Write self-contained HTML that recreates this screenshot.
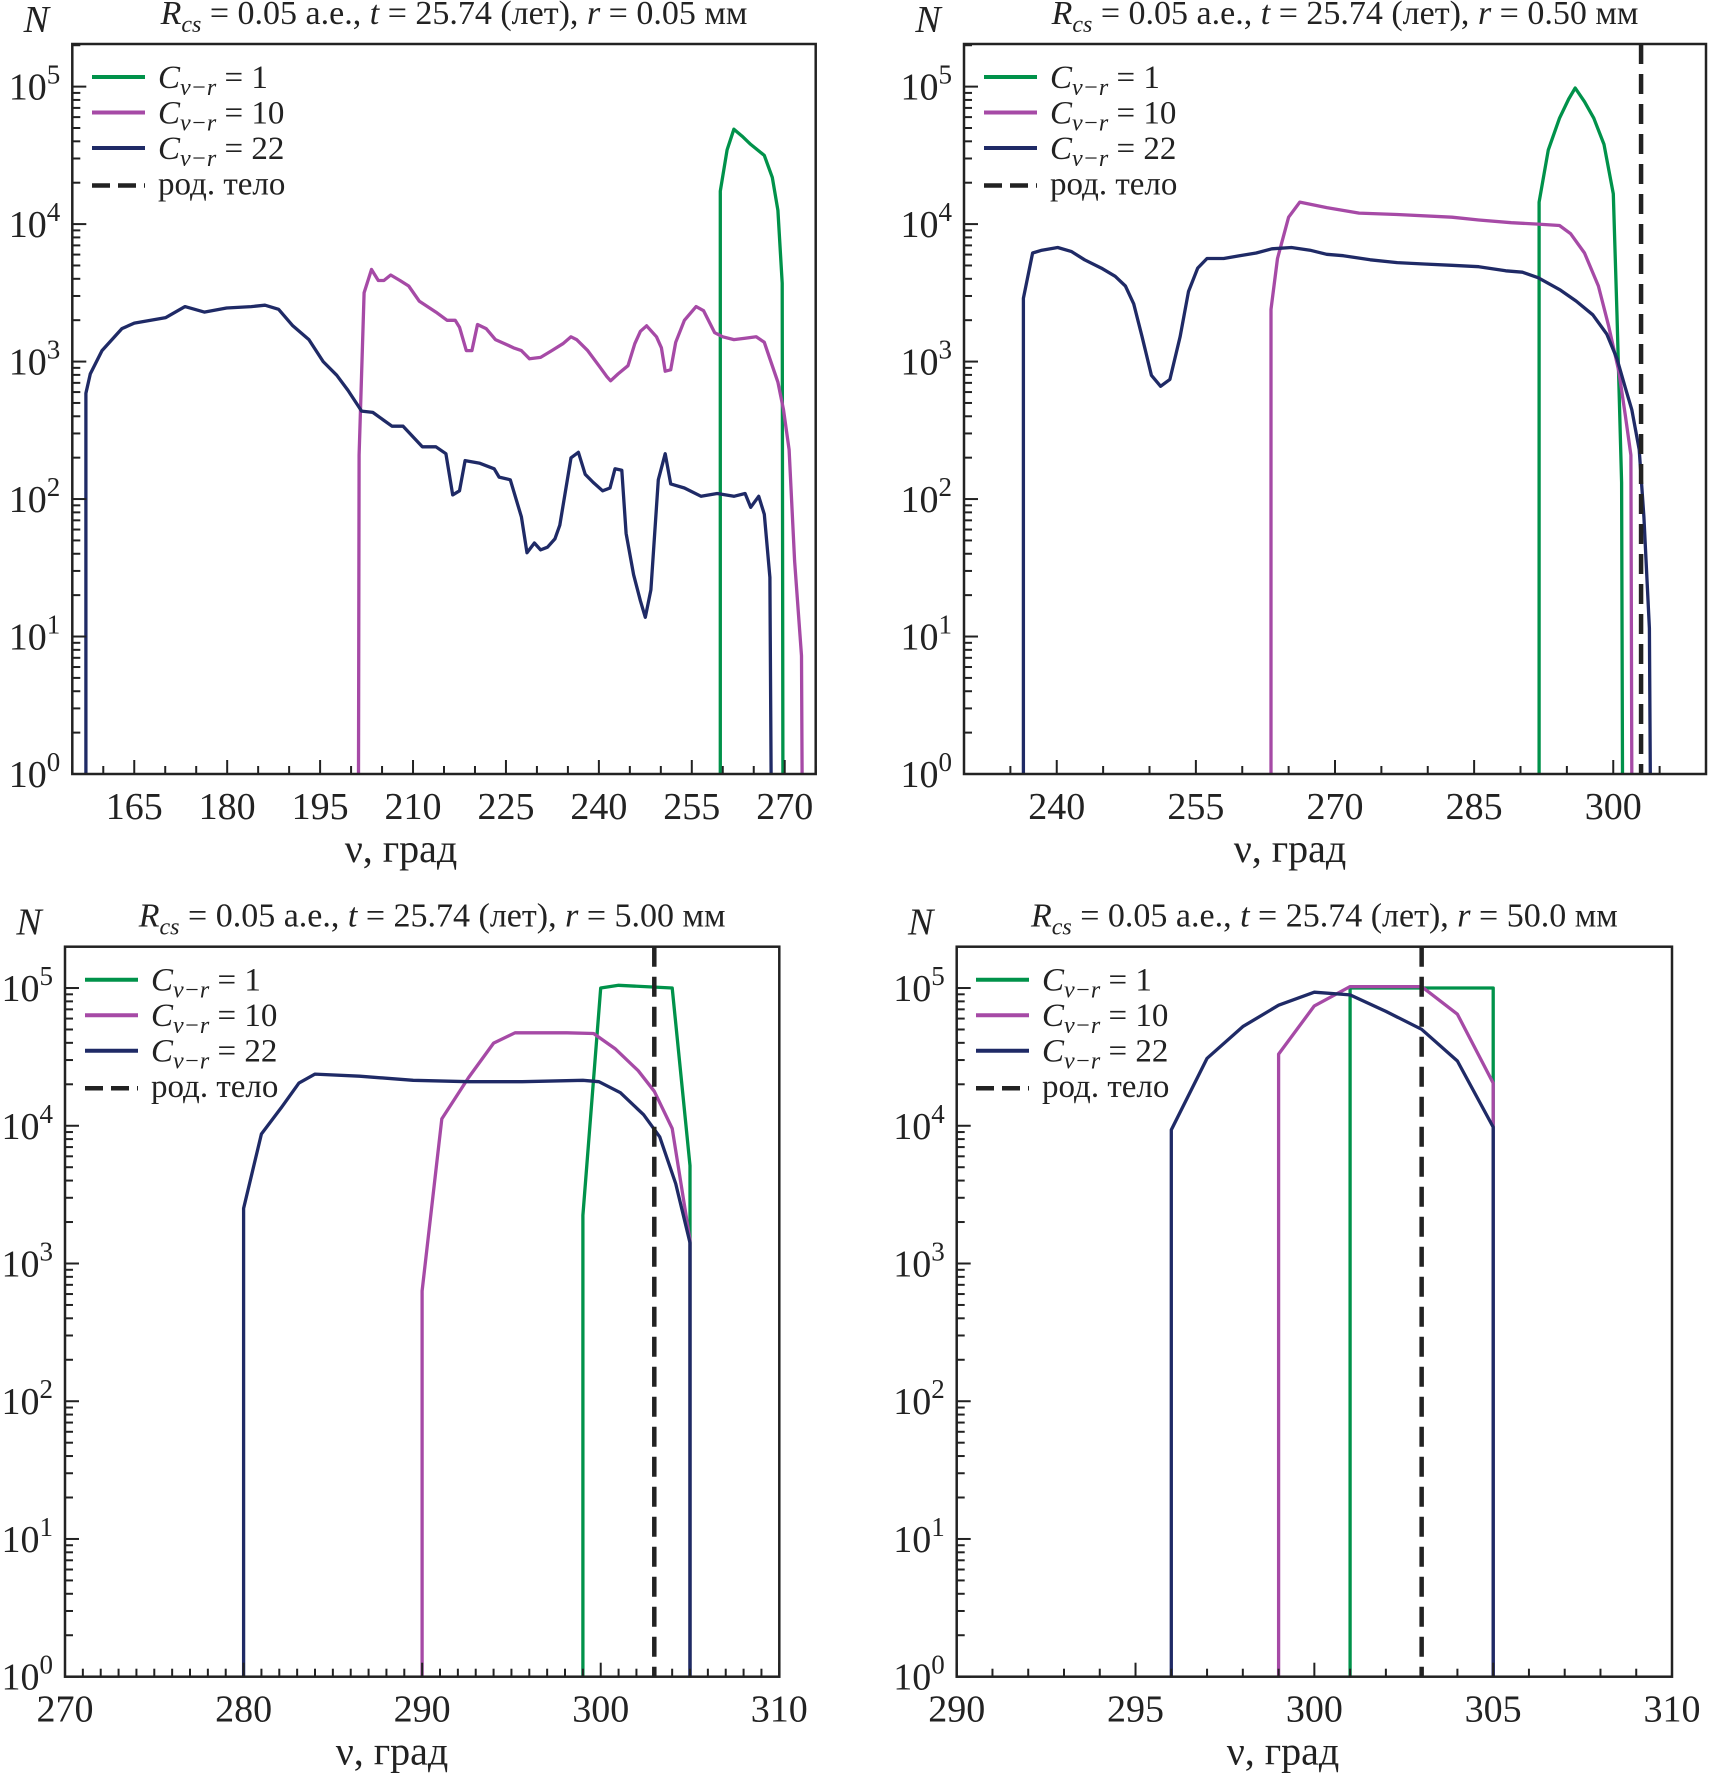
<!DOCTYPE html>
<html><head><meta charset="utf-8"><style>
html,body{margin:0;padding:0;background:#fff;}
svg{display:block;font-family:"Liberation Serif",serif;}
</style></head><body>
<svg id="fig" width="1709" height="1778" viewBox="0 0 1709 1778" xmlns="http://www.w3.org/2000/svg"></svg>
<script>
// ---- data (x in degrees, y as log10 N) ----
const p1BlueX=[157.2,157.2,157.9,159.8,163.0,165.0,170.1,173.2,176.3,179.9,183.9,186.1,188.3,190.6,193.2,195.5,197.7,199.5,201.7,203.5,206.6,208.4,211.5,213.7,215.3,216.4,217.5,218.4,220.8,223.1,223.9,225.7,227.5,228.4,229.6,230.6,231.7,232.9,233.7,235.5,236.7,237.8,239.1,240.6,241.8,242.6,243.7,244.4,245.6,246.7,247.5,248.4,249.6,250.7,251.6,253.8,256.5,259.1,261.8,263.6,264.5,265.8,266.7,267.6,267.8];
const p1BlueY=[0,2.77,2.91,3.08,3.24,3.28,3.32,3.40,3.36,3.39,3.40,3.41,3.38,3.26,3.16,3.0,2.90,2.79,2.64,2.63,2.53,2.53,2.38,2.38,2.33,2.03,2.06,2.28,2.26,2.22,2.16,2.14,1.87,1.61,1.68,1.63,1.65,1.71,1.81,2.30,2.34,2.18,2.12,2.06,2.08,2.22,2.21,1.75,1.45,1.26,1.14,1.34,2.14,2.33,2.11,2.08,2.02,2.04,2.02,2.04,1.94,2.02,1.89,1.43,0];
const p1MagX=[201.2,201.3,202.1,203.3,204.4,205.3,206.4,207.9,209.3,211.0,213.7,215.5,216.8,217.5,218.6,219.5,220.4,221.8,223.3,224.8,226.2,227.5,228.8,230.6,232.4,234.2,235.5,236.4,238.2,240.0,241.3,241.9,243.1,244.7,245.8,246.7,247.7,249.3,250.1,250.7,251.6,252.4,253.8,255.7,256.9,258.7,260.0,261.8,263.6,265.4,266.7,267.6,268.9,269.8,270.7,271.6,272.7,272.8];
const p1MagY=[0,2.32,3.5,3.67,3.59,3.59,3.63,3.59,3.55,3.44,3.36,3.30,3.30,3.25,3.08,3.08,3.27,3.24,3.16,3.13,3.10,3.08,3.02,3.03,3.08,3.13,3.18,3.16,3.08,2.97,2.89,2.86,2.91,2.97,3.13,3.22,3.26,3.18,3.10,2.93,2.94,3.14,3.30,3.40,3.37,3.21,3.18,3.16,3.17,3.18,3.14,3.02,2.85,2.65,2.36,1.55,0.86,0];
const p1GrnX=[259.6,259.6,260.7,261.8,263.1,264.5,266.7,268.0,268.9,269.6,269.7];
const p1GrnY=[0,4.24,4.54,4.69,4.64,4.58,4.50,4.34,4.10,3.57,0];

const p2BlueX=[236.4,236.4,237.4,238.4,240.1,241.6,243.0,244.8,246.3,247.4,248.3,249.2,250.2,251.2,252.2,253.3,254.2,255.2,256.2,258.0,259.7,261.5,263.2,265.3,267.3,269.1,270.9,273.8,276.7,279.6,282.6,285.5,288.4,290.2,291.9,294.3,296.0,297.8,299.3,300.4,301.3,302.0,302.8,303.3,303.9,304.0];
const p2BlueY=[0,3.46,3.79,3.81,3.83,3.80,3.74,3.68,3.62,3.55,3.42,3.18,2.90,2.82,2.87,3.18,3.51,3.68,3.75,3.75,3.77,3.79,3.82,3.83,3.81,3.78,3.77,3.74,3.72,3.71,3.70,3.69,3.66,3.65,3.61,3.52,3.44,3.34,3.20,3.02,2.81,2.65,2.36,1.87,1.06,0];
const p2MagX=[263.1,263.1,263.8,265.0,266.2,269.1,272.6,276.7,282.6,285.5,289.0,291.9,294.2,295.4,296.9,298.4,299.5,300.6,301.3,301.9,302.0];
const p2MagY=[0,3.38,3.75,4.05,4.16,4.12,4.08,4.07,4.05,4.03,4.01,4.00,3.99,3.93,3.79,3.55,3.26,2.93,2.61,2.32,0];
const p2GrnX=[292.0,292.0,293.0,294.2,295.2,295.9,296.9,297.9,299.0,300.0,300.4,300.9,301.0];
const p2GrnY=[0,4.16,4.54,4.77,4.91,4.99,4.89,4.77,4.58,4.22,3.34,2.12,0];

const p3BlueX=[280,280,281,282.1,283.1,284,286.5,289.5,292.6,295.6,299,299.9,301.1,302.4,303.3,304.2,305,305];
const p3BlueY=[0,3.40,3.94,4.13,4.31,4.375,4.36,4.33,4.32,4.32,4.33,4.32,4.24,4.08,3.92,3.58,3.15,0];
const p3MagX=[290,290,291.1,292.6,294,295.2,298.1,299.6,300.8,302.1,303,304,305,305];
const p3MagY=[0,2.8,4.05,4.35,4.60,4.675,4.675,4.67,4.56,4.40,4.25,3.98,3.17,0];
const p3GrnX=[299,299,300,301,304,305,305];
const p3GrnY=[0,3.35,5.0,5.02,5.0,3.71,0];

const p4BlueX=[296,296,297,298,299,300,301,302,303,304,305,305];
const p4BlueY=[0,3.97,4.49,4.72,4.875,4.97,4.95,4.83,4.70,4.47,3.99,0];
const p4MagX=[299,299,300,301,303,304,305,305];
const p4MagY=[0,4.52,4.87,5.01,5.01,4.81,4.31,0];
const p4GrnX=[301,301,305,305];
const p4GrnY=[0,5.0,5.0,0];

const parentBody=[null,303,303,303];
const p1Ticks=[165,180,195,210,225,240,255,270];
const p2Ticks=[240,255,270,285,300];
const p3Ticks=[270,280,290,300,310];
const p4Ticks=[290,295,300,305,310];
const yTickExp=[0,1,2,3,4,5];
const titles=["0.05 мм","0.50 мм","5.00 мм","50.0 мм"];
const legendVals=["1","10","22"];

const COL={g:"#00924a",m:"#a64aa6",b:"#1f2a66"};
const NS="http://www.w3.org/2000/svg";
const svg=document.getElementById('fig');
function mk(tag,attrs,parent){const e=document.createElementNS(NS,tag);for(const k in attrs)e.setAttribute(k,attrs[k]);(parent||svg).appendChild(e);return e;}

const panels=[
 {L:72.3,R:815.7,T:44,B:774,x0:155,x1:275,ymax:5.31,ticks:p1Ticks,minor:5,series:[[p1GrnX,p1GrnY,'g'],[p1MagX,p1MagY,'m'],[p1BlueX,p1BlueY,'b']],title:titles[0],xlab:401,legX:92},
 {L:964,R:1706,T:44,B:774,x0:230,x1:310,ymax:5.31,ticks:p2Ticks,minor:5,series:[[p2GrnX,p2GrnY,'g'],[p2MagX,p2MagY,'m'],[p2BlueX,p2BlueY,'b']],title:titles[1],xlab:1290,legX:984},
 {L:65,R:779.3,T:946.7,B:1676.7,x0:270,x1:310,ymax:5.30,ticks:p3Ticks,minor:1,series:[[p3GrnX,p3GrnY,'g'],[p3MagX,p3MagY,'m'],[p3BlueX,p3BlueY,'b']],title:titles[2],xlab:392,legX:85},
 {L:956.7,R:1672,T:946.7,B:1676.7,x0:290,x1:310,ymax:5.30,ticks:p4Ticks,minor:1,series:[[p4GrnX,p4GrnY,'g'],[p4MagX,p4MagY,'m'],[p4BlueX,p4BlueY,'b']],title:titles[3],xlab:1283,legX:976}
];

panels.forEach((P,pi)=>{
 const g=mk('g',{});
 
 
 const sx=v=>P.L+(v-P.x0)/(P.x1-P.x0)*(P.R-P.L);
 const sy=v=>P.B-v/P.ymax*(P.B-P.T);
 P.series.forEach(s=>{
  const pts=s[0].map((x,i)=>sx(x).toFixed(1)+','+sy(s[1][i]).toFixed(1)).join(' ');
  const pl=mk('polyline',{points:pts,fill:'none',stroke:COL[s[2]],'stroke-width':3.3,'stroke-linejoin':'round'},g);
  
  
 });
 if(parentBody[pi]!==null){
  const dl=mk('line',{x1:sx(parentBody[pi]),x2:sx(parentBody[pi]),y1:P.T,y2:P.B,stroke:'#222','stroke-width':4.5,'stroke-dasharray':'20,10'},g);
  
  
 }
 const fr=mk('rect',{x:P.L,y:P.T,width:P.R-P.L,height:P.B-P.T,fill:'none',stroke:'#222','stroke-width':2.5},g);
 
 
 for(let v=Math.ceil(P.x0/P.minor)*P.minor;v<=P.x1;v+=P.minor){
  const major=P.ticks.includes(v);
  const t=mk('line',{x1:sx(v),x2:sx(v),y1:P.B,y2:P.B-(major?14:8),stroke:'#222','stroke-width':2},g);
  
  
 }
 P.ticks.forEach(v=>{
  const t=mk('text',{x:sx(v),y:P.B+45,'font-size':38,'text-anchor':'middle',fill:'#222'},g);
  t.textContent=String(v);
  
  
 });
 yTickExp.forEach(e=>{
  const t=mk('line',{x1:P.L,x2:P.L+14,y1:sy(e),y2:sy(e),stroke:'#222','stroke-width':2},g);
  
  
  for(let k=2;k<=9;k++){const lv=e+Math.log10(k);if(lv>P.ymax)break;
   const m=mk('line',{x1:P.L,x2:P.L+8,y1:sy(lv),y2:sy(lv),stroke:'#222','stroke-width':2},g);
   
   }
  const tl=mk('text',{x:P.L-12,y:sy(e)+13,'font-size':38,'text-anchor':'end',fill:'#222'},g);
  
  
  const a=mk('tspan',{},tl);a.textContent='10';
  const b=mk('tspan',{dy:-16,'font-size':27},tl);b.textContent=String(e);
 });
 const nl=mk('text',{x:P.L-36,y:P.T-12,'font-size':38,'font-style':'italic','text-anchor':'middle',fill:'#222'},g);
 nl.textContent='N';
 
 
 const tt=mk('text',{x:(P.L+P.R)/2+10,y:P.T-20,'font-size':34,'text-anchor':'middle',fill:'#222'},g);
 
 
 const parts=[['R','i'],['cs','sub'],[' = 0.05 а.е., ',''],['t','i'],[' = 25.74 (лет), ',''],['r','i'],[' = '+P.title,'']];
 let subbed=false;
 parts.forEach(p=>{const s=mk('tspan',{},tt);s.textContent=p[0];
  if(p[1]==='i')s.setAttribute('font-style','italic');
  if(p[1]==='sub'){s.setAttribute('font-style','italic');s.setAttribute('font-size',24);s.setAttribute('dy',8);subbed=true;}
  else if(subbed){s.setAttribute('dy',-8);subbed=false;}
 });
 const xl=mk('text',{x:P.xlab,y:P.B+88,'font-size':40,'text-anchor':'middle',fill:'#222'},g);
 xl.textContent='ν, град';
 
 
 const lg=mk('g',{},g);
 
 
 const ly0=P.T+33, dyl=35.5;
 ['g','m','b'].forEach((c,i)=>{
  const y=ly0+i*dyl;
  const ln=mk('line',{x1:P.legX,x2:P.legX+53,y1:y,y2:y,stroke:COL[c],'stroke-width':4},lg);
  
  
  const t=mk('text',{x:P.legX+66,y:y+11,'font-size':33,fill:'#222'},lg);
  
  
  const a=mk('tspan',{'font-style':'italic'},t);a.textContent='C';
  const b=mk('tspan',{'font-style':'italic','font-size':24,dy:7},t);b.textContent='v−r';
  const d=mk('tspan',{dy:-7},t);d.textContent=' = '+legendVals[i];
 });
 const y=ly0+3*dyl+2;
 const dl2=mk('line',{x1:P.legX,x2:P.legX+53,y1:y,y2:y,stroke:'#222','stroke-width':4.5,'stroke-dasharray':'18,8'},lg);
 
 
 const tb=mk('text',{x:P.legX+66,y:y+9,'font-size':33,fill:'#222'},lg);
 tb.textContent='род. тело';
 
 
});
</script>
</body></html>
